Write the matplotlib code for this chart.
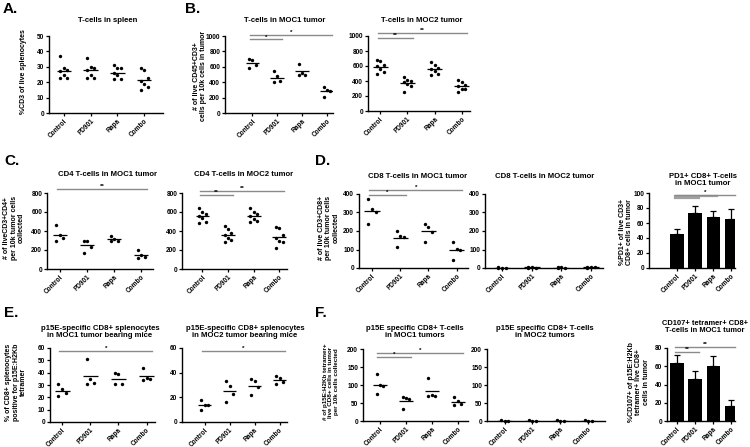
import numpy as np
import matplotlib
matplotlib.use("Agg")
import matplotlib.pyplot as plt

plt.rcParams['font.family'] = ['Liberation Sans', 'DejaVu Sans']
plt.rcParams['font.weight'] = 'bold'

groups = ["Control", "PD901", "Rapa", "Combo"]

# A. T-cells in spleen (%CD3)
spleen_cd3 = [[37, 29, 28, 27, 25, 23, 23],
              [36, 30, 29, 28, 25, 23, 23],
              [31, 29, 29, 26, 25, 22, 22],
              [29, 28, 23, 21, 19, 17, 15]]

# B. T-cells per 10k cells
moc1_t = [[700, 690, 620, 590],
          [540, 480, 410, 400],
          [640, 520, 500, 500],
          [340, 300, 280, 210]]
moc2_t = [[680, 670, 610, 600, 560, 520, 500],
          [450, 420, 400, 390, 360, 340, 260],
          [660, 620, 580, 560, 530, 500, 480],
          [420, 390, 350, 330, 300, 290, 260]]

# C. CD4 T-cells
moc1_cd4 = [[460, 360, 330, 300],
            [300, 290, 230, 170],
            [350, 320, 300, 300],
            [200, 150, 130, 120]]
moc2_cd4 = [[640, 600, 580, 560, 540, 500, 480],
            [450, 420, 380, 360, 330, 310, 280],
            [640, 600, 580, 560, 530, 510, 490],
            [440, 430, 360, 330, 300, 280, 220]]

# D. CD8 T-cells
moc1_cd8 = [[375, 320, 305, 240],
            [200, 175, 165, 115],
            [238, 220, 195, 143],
            [143, 102, 98, 45]]
moc2_cd8 = [[4, 2, 1, 0.5],
            [5, 3, 2, 1],
            [4, 3, 2, 1],
            [6, 4, 3, 2]]
pd1_mean = [45, 73, 68, 66]
pd1_sem = [6.5, 10, 8, 12.5]

# E. p15E-specific CD8+ splenocytes
moc1_spl = [[30.5, 27, 23.5, 21],
            [51, 35, 32, 31],
            [40, 39, 31, 30.5],
            [44, 36, 35, 34]]
moc2_spl = [[17.5, 14, 13.5, 9.5],
            [33.5, 29, 23, 16.4],
            [35, 33, 28, 21.5],
            [37, 35.5, 32.5, 31]]

# F. p15E specific CD8+ T-cells in tumor
moc1_tet = [[130, 100, 96, 76],
            [66, 63, 60, 33],
            [120, 71, 70, 69],
            [66, 56, 48, 45]]
moc2_tet = [[2, 1, 0.5],
            [2, 1, 0.5],
            [2, 1, 0.5],
            [2, 1, 0.5]]
cd107_mean = [64, 46, 60, 16]
cd107_sem = [8.4, 8.8, 11, 7.3]

W, H = 750, 447
fig = plt.figure(figsize=(7.5, 4.47), dpi=100)
SIG_GREY = '#8a8a8a'
TICK_FS = 4.7
LABEL_FS = 5.0


def px_axes(left, right, top, bottom):
    return fig.add_axes([left / W, 1 - bottom / H, (right - left) / W, (bottom - top) / H])


def style(ax, ymax, step, xlim):
    ax.set_ylim(0, ymax)
    ax.set_yticks(np.arange(0, ymax + step / 2, step))
    ax.set_xlim(*xlim)
    ax.set_xticks(range(len(groups)))
    ax.set_xticklabels(groups, rotation=45, ha='right', rotation_mode='anchor')
    for s in ('top', 'right'):
        ax.spines[s].set_visible(False)
    for s in ('left', 'bottom'):
        ax.spines[s].set_linewidth(1.0)
    ax.tick_params(direction='out', length=2.5, width=0.9, labelsize=TICK_FS, pad=1.0)
    ax.patch.set_alpha(0)


def add_sig(ax, sig):
    for i, j, y, label in sig:
        ax.plot([i - 0.1, j + 0.2], [y, y], color=SIG_GREY, lw=1.0, clip_on=False)
        ax.text((i + j) / 2 + 0.05, y, label, ha='center', va='bottom', fontsize=4.5)


def dot_panel(box, data, ymax, step, xlim, sig=()):
    ax = px_axes(*box)
    for i, vals in enumerate(data):
        vals = np.asarray(vals, float)
        rank = np.argsort(np.argsort(-vals))
        offs = ((rank % 3) - 1) * 0.13
        ax.scatter(i + offs, vals, s=6, color='black', linewidths=0, zorder=3, clip_on=False)
        ax.hlines(vals.mean(), i - 0.27, i + 0.27, color='black', lw=0.9, zorder=2)
    style(ax, ymax, step, xlim)
    add_sig(ax, sig)
    return ax


def bar_panel(box, means, sems, ymax, step, xlim, sig=()):
    ax = px_axes(*box)
    x = np.arange(len(groups))
    ax.bar(x, means, width=0.74, color='black', zorder=2)
    ax.errorbar(x, means, yerr=[np.zeros(len(x)), sems], fmt='none', ecolor='black',
                elinewidth=0.9, capsize=2, capthick=0.9, zorder=3)
    style(ax, ymax, step, xlim)
    add_sig(ax, sig)
    return ax


def ylabel(x, y, text, size=LABEL_FS):
    fig.text(x / W, 1 - y / H, text, rotation=90, ha='center', va='center',
             multialignment='center', fontsize=size, linespacing=1.05)


def title(x, y, text, size=5.6):
    fig.text(x / W, 1 - y / H, text, ha='center', va='center',
             multialignment='center', fontsize=size, linespacing=1.1)


def letter(x, y, text):
    fig.text(x / W, 1 - y / H, text, ha='left', va='center', fontsize=11)


# row 1
dot_panel((49, 163, 36, 113), spleen_cd3, 50, 10, (-0.55, 3.7))
dot_panel((225, 333, 36, 113), moc1_t, 1000, 200, (-1.1, 3.25),
          sig=[(0, 1, 955, '*'), (0, 3, 1017, '*')])
dot_panel((368, 470, 36, 111), moc2_t, 1000, 200, (-0.45, 3.3),
          sig=[(0, 1, 973, '**'), (0, 3, 1036, '**')])
letter(3, 9, "A.")
letter(185, 9, "B.")
title(108, 21, "T-cells in spleen")
title(285, 21, "T-cells in MOC1 tumor")
title(422, 21, "T-cells in MOC2 tumor")
ylabel(24, 72, "%CD3 of live splenocytes")
ylabel(200, 76, "# of live CD45+CD3+\ncells per 10k cells in tumor")

# row 2
dot_panel((47, 153, 193, 269), moc1_cd4, 800, 200, (-0.48, 3.44),
          sig=[(0, 3, 841, '**')])
dot_panel((182, 287, 193, 269), moc2_cd4, 800, 200, (-0.8, 3.3),
          sig=[(0, 1, 779, '**'), (0, 3, 822, '**')])
dot_panel((359, 468, 194, 268), moc1_cd8, 400, 100, (-0.46, 3.4),
          sig=[(0, 1, 395, '*'), (0, 3, 422, '*')])
dot_panel((485, 603, 194, 268), moc2_cd8, 400, 100, (-0.57, 3.4))
ax = bar_panel((649, 735, 193, 268), pd1_mean, pd1_sem, 100, 20, (-1.55, 3.2))
for j, y in zip([1, 2], [93.3, 95.5]):
    ax.plot([-0.1, j + 0.2], [y, y], color='#a0a0a0', lw=1.6, clip_on=False)
add_sig(ax, [(0, 3, 97.8, '*')])
letter(4, 161, "C.")
letter(315, 161, "D.")
title(107, 175, "CD4 T-cells in MOC1 tumor")
title(244, 175, "CD4 T-cells in MOC2 tumor")
title(418, 176, "CD8 T-cells in MOC1 tumor")
title(545, 176, "CD8 T-cells in MOC2 tumor")
title(703, 180, "PD1+ CD8+ T-cells\nin MOC1 tumor")
ylabel(14, 228, "# of liveCD3+CD4+\nper 10k tumor cells\ncollected")
ylabel(329, 228, "# of live CD3+CD8+\nper 10k tumor cells\ncollected")
ylabel(626, 232, "%PD1+ of live CD3+\nCD8+ cells in tumor")

# row 3
dot_panel((50, 155, 348, 422), moc1_spl, 60, 10, (-0.43, 3.3),
          sig=[(0, 3, 57.3, '*')])
dot_panel((182, 287, 348, 422), moc2_spl, 60, 20, (-0.9, 3.3),
          sig=[(0, 3, 57.3, '*')])
dot_panel((363, 468, 349, 421), moc1_tet, 200, 50, (-0.66, 3.4),
          sig=[(0, 1, 177, '*'), (0, 3, 189, '*')])
dot_panel((487, 605, 349, 421), moc2_tet, 200, 50, (-0.63, 3.6))
bar_panel((667, 735, 348, 421), cd107_mean, cd107_sem, 80, 20, (-0.55, 3.2),
          sig=[(0, 1, 75.3, '**'), (0, 3, 81.1, '**')])
letter(4, 313, "E.")
letter(315, 313, "F.")
title(100, 332, "p15E-specific CD8+ splenocytes\nin MOC1 tumor bearing mice")
title(245, 332, "p15E-specific CD8+ splenocytes\nin MOC2 tumor bearing mice")
title(415, 332, "p15E specific CD8+ T-cells\nin MOC1 tumors")
title(545, 332, "p15E specific CD8+ T-cells\nin MOC2 tumors")
title(705, 327, "CD107+ tetramer+ CD8+\nT-cells in MOC1 tumor", size=5.4)
ylabel(16, 382, "% of CD8+ splenocytes\npositive for p15E:H2Kb\ntetramer")
ylabel(331, 382, "# of p15E:H2Kb tetramer+\nlive CD8+ cells in tumor\nper 10k cells collected", size=4.5)
ylabel(639, 382, "%CD107+ of p15E:H2Kb\ntetramer+ live CD8+\ncells in tumor")

fig.savefig("out.png", dpi=100, facecolor='white')
